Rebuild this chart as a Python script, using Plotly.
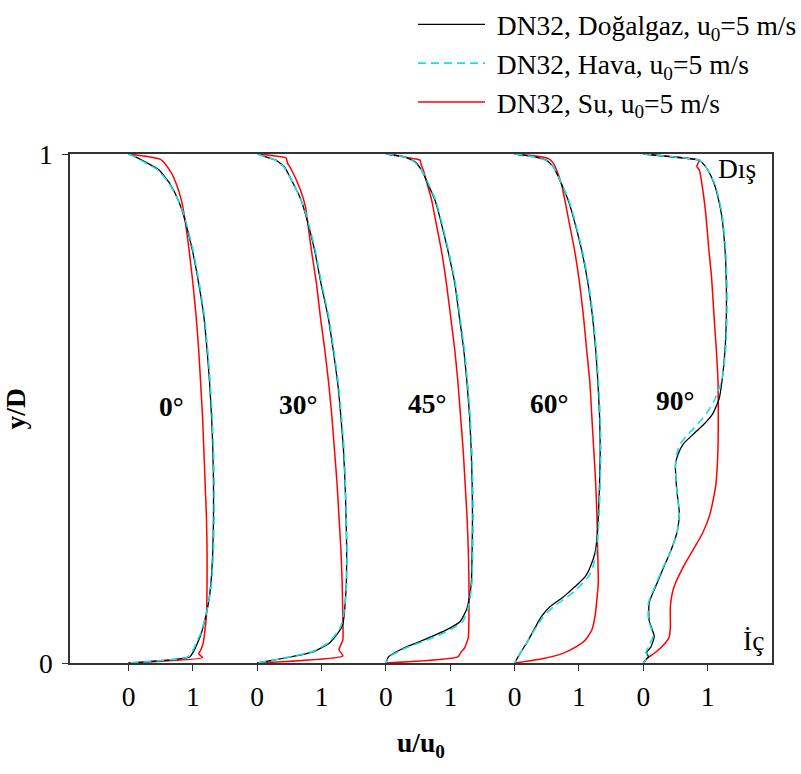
import plotly.graph_objects as go

# ---- velocity profiles u/u0 versus y/D at five bend angles ----
angles = ["0°", "30°", "45°", "60°", "90°"]
x_tick_labels = ["0", "1", "0", "1", "0", "1", "0", "1", "0", "1"]
series_names = [
    "DN32, Doğalgaz, u<sub>0</sub>=5 m/s",
    "DN32, Hava, u<sub>0</sub>=5 m/s",
    "DN32, Su, u<sub>0</sub>=5 m/s",
]

# 0°
y_gas_0 = [1.0, 0.995, 0.985, 0.969, 0.942, 0.91, 0.877, 0.812, 0.746, 0.681, 0.615, 0.55, 0.484,
           0.419, 0.353, 0.288, 0.223, 0.157, 0.124, 0.092, 0.058, 0.039, 0.025, 0.012, 0.0]
u_gas_0 = [0.0, 0.1, 0.25, 0.47, 0.64, 0.77, 0.86, 0.99, 1.09, 1.17, 1.22, 1.26, 1.29,
           1.31, 1.32, 1.32, 1.31, 1.28, 1.25, 1.2, 1.13, 1.07, 1.02, 0.95, 0.0]
u_air_0 = [0.0, 0.09, 0.23, 0.45, 0.63, 0.77, 0.87, 1.0, 1.1, 1.18, 1.23, 1.27, 1.3,
           1.32, 1.33, 1.33, 1.32, 1.29, 1.25, 1.2, 1.12, 1.05, 1.0, 0.92, 0.0]
y_su_0 = [1.0, 0.995, 0.99, 0.982, 0.962, 0.942, 0.91, 0.877, 0.812, 0.746, 0.681, 0.615, 0.55,
          0.484, 0.419, 0.353, 0.288, 0.223, 0.157, 0.092, 0.039, 0.025, 0.018, 0.011, 0.0]
u_su_0 = [0.0, 0.3, 0.49, 0.56, 0.67, 0.74, 0.82, 0.87, 0.94, 1.0, 1.05, 1.09, 1.12,
          1.15, 1.17, 1.19, 1.21, 1.22, 1.22, 1.21, 1.16, 1.12, 1.09, 1.15, 0.0]

# 30°
y_gas_30 = [1.0, 0.995, 0.988, 0.975, 0.942, 0.91, 0.877, 0.812, 0.746, 0.681, 0.615, 0.55, 0.484,
            0.419, 0.353, 0.288, 0.223, 0.157, 0.124, 0.092, 0.072, 0.058, 0.039, 0.022, 0.011, 0.0]
u_gas_30 = [0.0, 0.12, 0.29, 0.42, 0.56, 0.68, 0.76, 0.89, 0.99, 1.1, 1.18, 1.25, 1.3,
            1.34, 1.365, 1.38, 1.39, 1.385, 1.37, 1.35, 1.32, 1.25, 1.12, 0.87, 0.48, 0.0]
u_air_30 = [0.0, 0.11, 0.28, 0.41, 0.56, 0.68, 0.77, 0.9, 1.0, 1.11, 1.19, 1.26, 1.31,
            1.35, 1.37, 1.385, 1.395, 1.39, 1.37, 1.34, 1.3, 1.23, 1.1, 0.85, 0.47, 0.0]
y_su_30 = [1.0, 0.992, 0.982, 0.972, 0.936, 0.896, 0.85, 0.812, 0.746, 0.681, 0.615, 0.55, 0.484,
           0.419, 0.353, 0.288, 0.223, 0.157, 0.092, 0.045, 0.026, 0.014, 0.0]
u_su_30 = [0.0, 0.45, 0.47, 0.52, 0.65, 0.75, 0.8, 0.84, 0.92, 0.98, 1.05, 1.11, 1.16,
           1.2, 1.24, 1.27, 1.3, 1.32, 1.33, 1.33, 1.27, 1.33, 0.0]

# 45°
y_gas_45 = [1.0, 0.995, 0.985, 0.969, 0.942, 0.91, 0.877, 0.812, 0.746, 0.681, 0.615, 0.55, 0.484,
            0.419, 0.353, 0.288, 0.223, 0.163, 0.13, 0.104, 0.081, 0.065, 0.045, 0.029, 0.012, 0.0]
u_gas_45 = [0.0, 0.27, 0.45, 0.55, 0.65, 0.76, 0.835, 0.96, 1.07, 1.14, 1.21, 1.26, 1.3,
            1.325, 1.34, 1.345, 1.34, 1.33, 1.3, 1.25, 1.15, 0.94, 0.58, 0.27, 0.04, 0.0]
u_air_45 = [0.0, 0.26, 0.44, 0.55, 0.66, 0.77, 0.845, 0.97, 1.08, 1.15, 1.22, 1.27, 1.31,
            1.335, 1.35, 1.355, 1.35, 1.34, 1.31, 1.27, 1.19, 1.0, 0.64, 0.3, 0.05, 0.0]
y_su_45 = [1.0, 0.99, 0.988, 0.978, 0.969, 0.942, 0.91, 0.877, 0.812, 0.746, 0.681, 0.615, 0.55,
           0.484, 0.419, 0.353, 0.288, 0.223, 0.157, 0.092, 0.05, 0.029, 0.022, 0.012, 0.0]
u_su_45 = [0.0, 0.47, 0.53, 0.55, 0.58, 0.64, 0.71, 0.76, 0.86, 0.94, 1.005, 1.07, 1.12,
           1.16, 1.2, 1.23, 1.26, 1.28, 1.29, 1.29, 1.28, 1.22, 1.17, 1.12, 0.0]

# 60°
y_gas_60 = [1.0, 0.995, 0.988, 0.975, 0.942, 0.91, 0.877, 0.812, 0.746, 0.681, 0.615, 0.55, 0.484,
            0.419, 0.353, 0.3, 0.26, 0.22, 0.19, 0.17, 0.157, 0.14, 0.13, 0.11, 0.09, 0.065,
            0.04, 0.02, 0.0]
u_gas_60 = [0.0, 0.285, 0.49, 0.6, 0.725, 0.83, 0.91, 1.04, 1.14, 1.21, 1.26, 1.295, 1.32,
            1.33, 1.32, 1.305, 1.29, 1.255, 1.18, 1.1, 1.0, 0.85, 0.76, 0.545, 0.41, 0.3,
            0.19, 0.09, 0.0]
u_air_60 = [0.0, 0.28, 0.48, 0.6, 0.73, 0.84, 0.92, 1.05, 1.15, 1.22, 1.27, 1.305, 1.33,
            1.34, 1.33, 1.315, 1.3, 1.27, 1.22, 1.15, 1.06, 0.92, 0.82, 0.6, 0.44, 0.31,
            0.19, 0.09, 0.0]
y_su_60 = [1.0, 0.995, 0.99, 0.982, 0.969, 0.942, 0.91, 0.877, 0.812, 0.746, 0.681, 0.615, 0.55,
           0.484, 0.419, 0.353, 0.288, 0.223, 0.157, 0.092, 0.065, 0.045, 0.032, 0.019, 0.009, 0.0]
u_su_60 = [0.0, 0.39, 0.54, 0.6, 0.65, 0.725, 0.78, 0.83, 0.93, 1.01, 1.07, 1.12, 1.17,
           1.2, 1.23, 1.26, 1.28, 1.29, 1.3, 1.25, 1.2, 1.1, 0.96, 0.75, 0.45, 0.0]

# 90°
y_gas_90 = [1.0, 0.988, 0.985, 0.969, 0.942, 0.91, 0.877, 0.812, 0.746, 0.681, 0.615, 0.556,
            0.52, 0.49, 0.47, 0.45, 0.43, 0.41, 0.39, 0.34, 0.294, 0.26, 0.242, 0.215, 0.189,
            0.15, 0.118, 0.084, 0.065, 0.052, 0.032, 0.02, 0.013, 0.008, 0.0]
u_gas_90 = [0.0, 0.87, 0.9, 1.0, 1.1, 1.17, 1.22, 1.27, 1.29, 1.29, 1.27, 1.225,
            1.18, 1.08, 0.95, 0.78, 0.62, 0.54, 0.5, 0.52, 0.56, 0.53, 0.49, 0.41, 0.32,
            0.19, 0.09, 0.09, 0.14, 0.17, 0.12, 0.05, 0.08, 0.05, 0.0]
u_air_90 = [0.0, 0.87, 0.9, 1.0, 1.11, 1.18, 1.23, 1.28, 1.3, 1.3, 1.28, 1.22,
            1.12, 0.98, 0.85, 0.7, 0.57, 0.52, 0.5, 0.52, 0.56, 0.53, 0.49, 0.41, 0.31,
            0.18, 0.08, 0.08, 0.13, 0.15, 0.08, 0.04, 0.07, 0.05, 0.0]
y_su_90 = [1.0, 0.994, 0.988, 0.976, 0.969, 0.942, 0.883, 0.81, 0.759, 0.68, 0.615, 0.556,
           0.48, 0.42, 0.353, 0.33, 0.29, 0.255, 0.228, 0.2, 0.176, 0.157, 0.137, 0.11, 0.07,
           0.05, 0.039, 0.022, 0.009, 0.0]
u_su_90 = [0.0, 0.5, 0.87, 0.83, 0.87, 0.91, 0.97, 1.02, 1.06, 1.1, 1.135, 1.16,
           1.165, 1.16, 1.13, 1.1, 1.03, 0.92, 0.8, 0.67, 0.57, 0.5, 0.45, 0.42, 0.42,
           0.4, 0.34, 0.2, 0.06, 0.0]

gas_profiles = [(y_gas_0, u_gas_0), (y_gas_30, u_gas_30), (y_gas_45, u_gas_45),
                (y_gas_60, u_gas_60), (y_gas_90, u_gas_90)]
air_profiles = [(y_gas_0, u_air_0), (y_gas_30, u_air_30), (y_gas_45, u_air_45),
                (y_gas_60, u_air_60), (y_gas_90, u_air_90)]
su_profiles = [(y_su_0, u_su_0), (y_su_30, u_su_30), (y_su_45, u_su_45),
               (y_su_60, u_su_60), (y_su_90, u_su_90)]

SPACING = 2.0  # horizontal shift between successive profiles, in u/u0 units


def stack(profiles):
    """Join the profiles into one polyline, shifting each one to its own panel."""
    xs, ys = [], []
    for k, (yv, uv) in enumerate(profiles):
        xs += [SPACING * k + u for u in uv] + [None]
        ys += list(yv) + [None]
    return xs, ys


FONT = "Times New Roman, Liberation Serif, serif"
FS = 27.5

fig = go.Figure()

styles = [
    (su_profiles, series_names[2], dict(color="#ff0000", width=1.5), 3),
    (gas_profiles, series_names[0], dict(color="#000000", width=1.3), 1),
    (air_profiles, series_names[1], dict(color="#19dfe8", width=1.6, dash="8px,5px"), 2),
]
for profiles, name, line, rank in styles:
    xs, ys = stack(profiles)
    fig.add_trace(go.Scatter(
        x=xs, y=ys, mode="lines", name="&nbsp;" + name,
        line=dict(shape="spline", smoothing=0.5, **line),
        legendrank=rank, legendgroup=name,
    ))

# angle labels in the middle of each panel
label_x = [0.66, 2.64, 4.64, 6.54, 8.5]
label_y = [0.503, 0.507, 0.509, 0.509, 0.515]
for txt, lx, ly in zip(angles, label_x, label_y):
    fig.add_annotation(x=lx, y=ly, text=f"<b>{txt}</b>", showarrow=False,
                       font=dict(family=FONT, size=FS, color="black"))

# wall markers (outer / inner wall of the bend)
fig.add_annotation(x=9.45, y=0.972, text="Dış", showarrow=False,
                   font=dict(family=FONT, size=FS, color="black"))
fig.add_annotation(x=9.72, y=0.045, text="İç", showarrow=False,
                   font=dict(family=FONT, size=FS, color="black"))

# axis titles
fig.add_annotation(xref="paper", yref="paper", x=-0.077, y=0.5, text="<b>y/D</b>",
                   xanchor="center", yanchor="middle", textangle=-90, showarrow=False,
                   font=dict(family=FONT, size=FS, color="black"))
fig.add_annotation(xref="paper", yref="paper", x=0.5, y=-0.16,
                   xanchor="center", yanchor="middle",
                   text="<b>u/u<sub>0</sub></b>", showarrow=False,
                   font=dict(family=FONT, size=FS, color="black"))

axis_common = dict(
    showline=True, mirror=True, linecolor="#333333", linewidth=1.5,
    ticks="outside", ticklen=6, tickwidth=1.3, tickcolor="#333333",
    showgrid=False, zeroline=False, automargin=False,
    tickfont=dict(family=FONT, size=FS, color="black"),
)

fig.update_layout(
    width=801, height=774,
    margin=dict(l=70, r=29, t=154, b=111, autoexpand=False),
    paper_bgcolor="white", plot_bgcolor="white",
    font=dict(family=FONT, size=FS, color="black"),
    xaxis=dict(range=[-0.91, 10.0], tickvals=list(range(10)), ticktext=x_tick_labels,
               ticklabelstandoff=2, **axis_common),
    yaxis=dict(range=[0, 1], tickvals=[0, 1], ticktext=["0", "1"],
               ticklabelstandoff=4, **axis_common),
    legend=dict(xref="container", yref="container", x=0.5156, y=1.004,
                xanchor="left", yanchor="top",
                bgcolor="rgba(0,0,0,0)", itemwidth=67, tracegroupgap=0,
                font=dict(family=FONT, size=FS, color="black")),
)

fig.write_html("out.html")
